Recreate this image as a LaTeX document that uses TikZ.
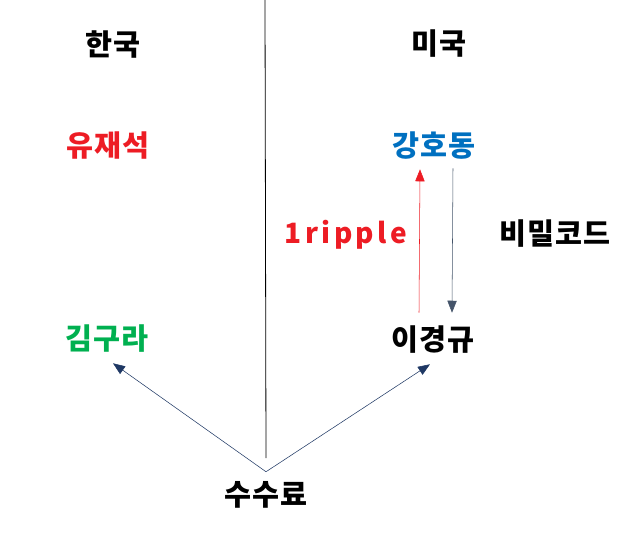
\documentclass[tikz,border=0pt]{standalone}
\usepackage{fontspec}
\setmainfont{Noto Sans CJK KR}[LetterSpace=4]
\newfontfamily\spacedfont{Noto Sans CJK KR}[LetterSpace=12]
\usetikzlibrary{arrows.meta,calc}
\definecolor{namered}{RGB}{237,28,36}
\definecolor{nameblue}{RGB}{0,112,192}
\definecolor{namegreen}{RGB}{0,176,80}
\definecolor{arrownavy}{RGB}{31,56,100}
\definecolor{arrowgray}{RGB}{68,84,106}

\begin{document}
\begin{tikzpicture}[x=0.75pt,y=-0.75pt]
		\useasboundingbox (0,0) rectangle (622,537);
		\begin{scope}[every node/.style={inner sep=0pt,minimum height=34.5pt,
		              font=\bfseries\fontsize{22}{26}\selectfont}]
		    \node (korea) at (113,44) {한국};
		    \node (usa) at (439,44) {미국};
		    \node[text=namered] (yu) at (108,146) {유재석};
		    \node[text=nameblue] (kang) at (434,146) {강호동};
		    \node[text=namered,font=\spacedfont\bfseries\fontsize{21}{25}\selectfont] (ripple) at (346,235) {1ripple};
		    \node (code) at (555,234) {비밀코드};
		    \node[text=namegreen] (kim) at (107,339) {김구라};
		    \node (lee) at (433,340) {이경규};
		    \node (fee) at (266,495) {수수료};
		\end{scope}
		\coordinate (top) at (265,0);
		\coordinate (bottom) at (266,458);
		\draw[line width=0.6pt] (top) -- (bottom);
		
		\begin{scope}[>={Triangle[length=9pt,width=7pt]},thin]
		    	\draw[->,namered] ($(lee.north)+(-14,-4)$) -- ($(kang.south)+(-14,0)$);
		    	\draw[->,arrowgray] ($(kang.south)+(19,-1)$) -- ($(lee.north)+(19,-4)$);
		    	\draw[->,arrownavy] (fee.north) -- ($(kim.south)+(6,1)$);
		    	\draw[->,arrownavy] (fee.north) -- ($(lee.south)+(-3,1)$);
		\end{scope}
\end{tikzpicture}
\end{document}
